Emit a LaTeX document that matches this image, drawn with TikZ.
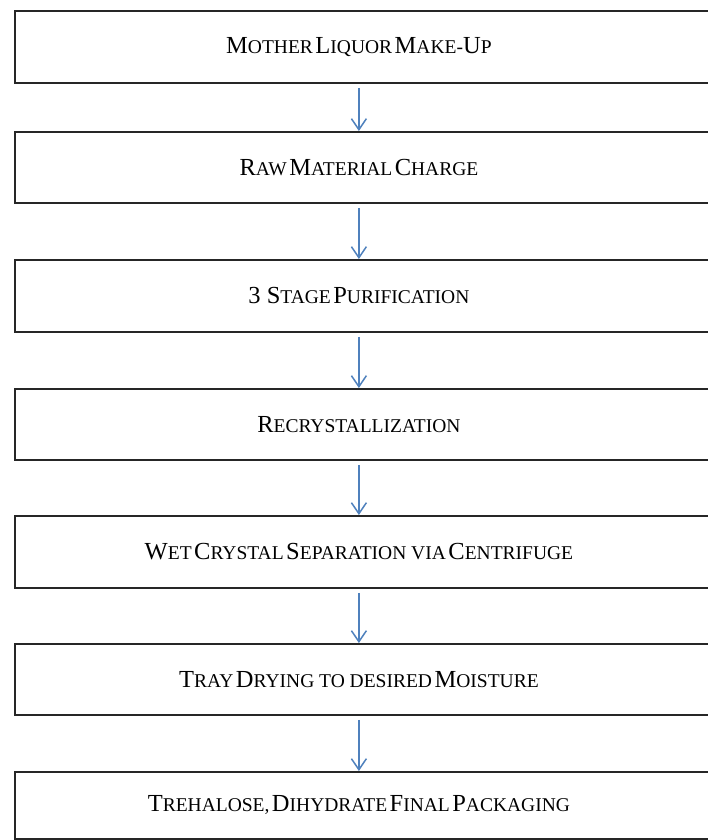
\documentclass[tikz,border=0pt]{standalone}
\usepackage{fontspec}
\setmainfont{Liberation Serif}
\usetikzlibrary{arrows.meta}
\definecolor{arrblue}{HTML}{4F81BD}
\newcommand\Bg[1]{{\fontsize{24.5}{28}\selectfont #1}}
\newcommand\Sm[1]{{\fontsize{19.5}{23}\selectfont #1}}
\tikzset{
  flowbox/.style={draw=black!85, line width=1.8pt, minimum width=706pt, minimum height=72pt, inner sep=0pt, anchor=north west, text=black},
  flowarr/.style={draw=arrblue, line width=1.5pt, -{Straight Barb[length=11pt,width=15pt,line width=1.5pt]}},
}
\begin{document}
\begin{tikzpicture}[x=1pt,y=-1pt]
\useasboundingbox (0,0) rectangle (708,840);
\clip (0,0) rectangle (708,840);
\fill[white] (0,0) rectangle (708,840);
\node[flowbox] (b1) at (14,10) {\hspace*{-18pt}\Bg{M}\Sm{OTHER} \Bg{L}\Sm{IQUOR} \Bg{M}\Sm{AKE-}\Bg{U}\Sm{P}};
\node[flowbox,minimum height=71pt] (b2) at (14,131) {\hspace*{-18pt}\Bg{R}\Sm{AW} \Bg{M}\Sm{ATERIAL} \Bg{C}\Sm{HARGE}};
\node[flowbox] (b3) at (14,259) {\hspace*{-18pt}\Bg{3 S}\Sm{TAGE} \Bg{P}\Sm{URIFICATION}};
\node[flowbox,minimum height=71pt] (b4) at (14,388) {\hspace*{-18pt}\Bg{R}\Sm{ECRYSTALLIZATION}};
\node[flowbox] (b5) at (14,515) {\hspace*{-18pt}\Bg{W}\Sm{ET} \Bg{C}\Sm{RYSTAL} \Bg{S}\Sm{EPARATION VIA} \Bg{C}\Sm{ENTRIFUGE}};
\node[flowbox,minimum height=71pt] (b6) at (14,643) {\hspace*{-18pt}\Bg{T}\Sm{RAY} \Bg{D}\Sm{RYING TO DESIRED} \Bg{M}\Sm{OISTURE}};
\node[flowbox,minimum height=67pt] (b7) at (14,771) {\hspace*{-18pt}\Bg{T}\Sm{REHALOSE,} \Bg{D}\Sm{IHYDRATE} \Bg{F}\Sm{INAL} \Bg{P}\Sm{ACKAGING}};
\foreach \a/\b in {b1/b2,b2/b3,b3/b4,b4/b5,b5/b6,b6/b7}{
  \draw[flowarr] ([xshift=-9pt,yshift=-4pt]\a.south) -- ([xshift=-9pt]\b.north);
}
\end{tikzpicture}
\end{document}
